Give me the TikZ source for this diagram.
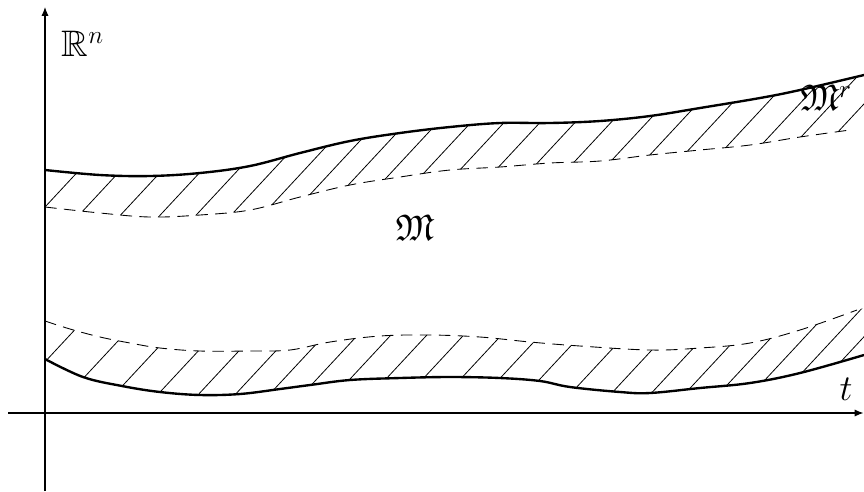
\documentclass[tikz,border=0pt]{standalone}
\usepackage{amssymb}
\usetikzlibrary{arrows.meta}
\begin{document}
\begin{tikzpicture}[x=0.02cm,y=-0.02cm,
  axis/.style={line width=0.6pt,-{Latex[length=5pt,width=4pt]}},
  bound/.style={line width=1.35pt},
  inner/.style={line width=0.5pt,dash pattern=on 6.6pt off 4.2pt},
  hatchline/.style={line width=0.45pt},
  lbl/.style={font=\fontsize{21}{25}\selectfont, inner sep=0pt}]
\useasboundingbox (0,0) rectangle (864,491);
% axes
\coordinate (ybot) at (45,491);
\coordinate (ytop) at (45,7);
\coordinate (xl) at (8,413);
\coordinate (xr) at (863.5,413);
\draw[axis] (ybot) -- (ytop);
\draw[axis] (xl) -- (xr);
% upper band hatching
\begin{scope}
\clip plot[smooth,tension=0.6] coordinates {(45,170) (100,175) (150,176) (200,173) (250,166) (300,153) (350,141) (400,133) (450,127) (500,123) (550,123) (600,121) (650,116) (700,108) (760,98) (800,90) (864,75)} -- (864,491) -- (45,491) -- cycle;
\clip plot[smooth,tension=0.6] coordinates {(45,207) (100,213) (150,217) (200,215) (250,210) (300,197) (350,185) (400,177) (450,170) (500,167) (550,163) (600,161) (650,155) (700,150) (750,145) (800,137) (850,130)} -- (864,130) -- (864,0) -- (45,0) -- cycle;
\foreach \x/\y in {45/207,82.8/211,120.6/215,158.4/217,196.2/215,234/212,271.8/205,309.6/195,347.4/186,385.2/179,423/174,460.8/169,498.6/167,536.4/164,574.2/162,612/160,649.8/155,687.6/151,725.4/148,763.2/143,801/137,838.8/131}
  \draw[hatchline] (\x,\y) ++(-40,43) -- ++(120,-129);
\end{scope}
% lower band hatching
\begin{scope}
\clip plot[smooth,tension=0.6] coordinates {(45,321) (70,329) (100,337) (130,343) (160,348) (200,351) (250,351) (290,350) (330,342) (380,336) (430,335) (480,337) (530,342) (580,346) (650,350) (700,348) (750,343) (800,330) (857,310)} -- (864,308) -- (864,491) -- (45,491) -- cycle;
\clip plot[smooth,tension=0.6] coordinates {(45,359) (83,377) (122,386) (160,392) (200,395) (240,394) (280,389) (310,385) (350,380) (400,378) (450,377) (500,378) (540,381) (570,387) (620,392) (650,393) (700,388) (750,383) (800,373) (864,355)} -- (864,0) -- (45,0) -- cycle;
\foreach \x/\y in {46.7/360,84.5/377,122.3/386,160.1/392,197.9/395,235.7/394,273.5/390,311.3/385,349.1/380,386.9/378,424.7/377,462.5/377,500.3/378,538.1/381,575.9/388,613.7/391,651.5/393,689.3/389,727.1/385,764.9/380,802.7/372,840.5/362}
  \draw[hatchline] (\x,\y) ++(-40,43) -- ++(120,-129);
\end{scope}
% boundaries
\draw[bound] plot[smooth,tension=0.6] coordinates {(45,170) (100,175) (150,176) (200,173) (250,166) (300,153) (350,141) (400,133) (450,127) (500,123) (550,123) (600,121) (650,116) (700,108) (760,98) (800,90) (864,75)};
\draw[inner] plot[smooth,tension=0.6] coordinates {(45,207) (100,213) (150,217) (200,215) (250,210) (300,197) (350,185) (400,177) (450,170) (500,167) (550,163) (600,161) (650,155) (700,150) (750,145) (800,137) (850,130)};
\draw[inner] plot[smooth,tension=0.6] coordinates {(45,321) (70,329) (100,337) (130,343) (160,348) (200,351) (250,351) (290,350) (330,342) (380,336) (430,335) (480,337) (530,342) (580,346) (650,350) (700,348) (750,343) (800,330) (857,310)};
\draw[bound] plot[smooth,tension=0.6] coordinates {(45,359) (83,377) (122,386) (160,392) (200,395) (240,394) (280,389) (310,385) (350,380) (400,378) (450,377) (500,378) (540,381) (570,387) (620,392) (650,393) (700,388) (750,383) (800,373) (864,355)};
% labels
\node[lbl] (rn) at (83,44) {$\mathbb{R}^n$};
\node[lbl] (m) at (415,228) {$\mathfrak{M}$};
\node[lbl] (mr) at (826,98) {$\mathfrak{M}^r$};
\node[lbl] (t) at (846,389) {$t$};
\end{tikzpicture}
\end{document}
